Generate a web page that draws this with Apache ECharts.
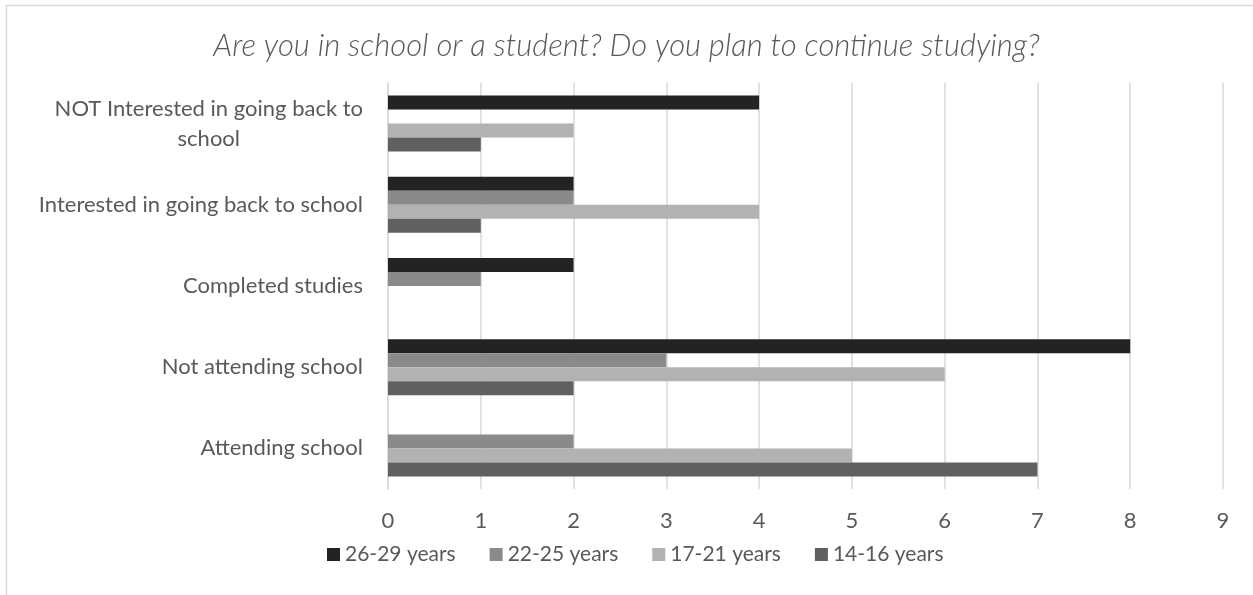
<!DOCTYPE html>
<html>
<head>
<meta charset="utf-8">
<script src="https://cdn.jsdelivr.net/npm/echarts@6/dist/echarts.min.js"></script>
<style>
html,body{margin:0;padding:0;background:#fff;}
#chart{width:1253px;height:595px;}
</style>
</head>
<body>
<div id="chart"></div>
<script>
const titleText = 'Are you in school or a student? Do you plan to continue studying?';
const categories = ['Attending school', 'Not attending school', 'Completed studies', 'Interested in going back to school', 'NOT Interested in going back to\nschool'];
const seriesNames = ['26-29 years', '22-25 years', '17-21 years', '14-16 years'];
const s26_29 = [0, 8, 2, 2, 4];
const s22_25 = [2, 3, 1, 2, 0];
const s17_21 = [5, 6, 0, 4, 2];
const s14_16 = [7, 2, 0, 1, 1];
const xTicks = [0, 1, 2, 3, 4, 5, 6, 7, 8, 9];
const colors = {'26-29 years': '#232323', '22-25 years': '#8a8a8a', '17-21 years': '#b2b2b2', '14-16 years': '#606060'};
const dataByName = {'26-29 years': s26_29, '22-25 years': s22_25, '17-21 years': s17_21, '14-16 years': s14_16};

const FONT = 'Lato';
const chart = echarts.init(document.getElementById('chart'), null, {renderer: 'canvas'});
const option = {
  animation: false,
  backgroundColor: '#fff',
  graphic: [{
    type: 'rect', shape: {x: 6.5, y: 5.5, width: 1260, height: 600},
    style: {fill: 'none', stroke: '#d9d9d9', lineWidth: 1.5}, silent: true, z: -1
  }],
  title: {
    text: titleText, left: 'center', top: 25,
    textStyle: {fontFamily: FONT, fontStyle: 'italic', fontWeight: 300, fontSize: 31, color: '#595959'}
  },
  legend: {
    data: seriesNames, top: 539, left: 322,
    icon: 'rect', itemWidth: 13, itemHeight: 13, itemGap: 34,
    textStyle: {fontFamily: FONT, fontSize: 21, color: '#595959'}
  },
  grid: {left: 388, right: 30, top: 83, bottom: 106, containLabel: false},
  xAxis: {
    type: 'value', min: xTicks[0], max: xTicks[xTicks.length - 1], interval: 1,
    axisLine: {show: false}, axisTick: {show: false},
    splitLine: {lineStyle: {color: '#d9d9d9', width: 1.5}},
    axisLabel: {fontFamily: FONT, fontSize: 22, color: '#595959', margin: 21}
  },
  yAxis: {
    type: 'category', data: categories,
    axisLine: {show: true, lineStyle: {color: '#d9d9d9', width: 1.5}},
    axisTick: {show: false},
    axisLabel: {
      fontFamily: FONT, fontSize: 22, color: '#595959', margin: 25, lineHeight: 30,
      formatter: function (v) {
        if (v.indexOf('\n') >= 0) return v.split('\n').map(l => '{c|' + l + '}').join('\n');
        return v;
      },
      rich: {c: {align: 'center', fontFamily: FONT, fontSize: 22, color: '#595959', lineHeight: 30}}
    }
  },
  series: seriesNames.map(name => ({
    name: name, type: 'bar', data: dataByName[name],
    itemStyle: {color: colors[name]},
    barGap: '0%', barCategoryGap: '31%'
  }))
};
chart.setOption(option);
</script>
</body>
</html>
